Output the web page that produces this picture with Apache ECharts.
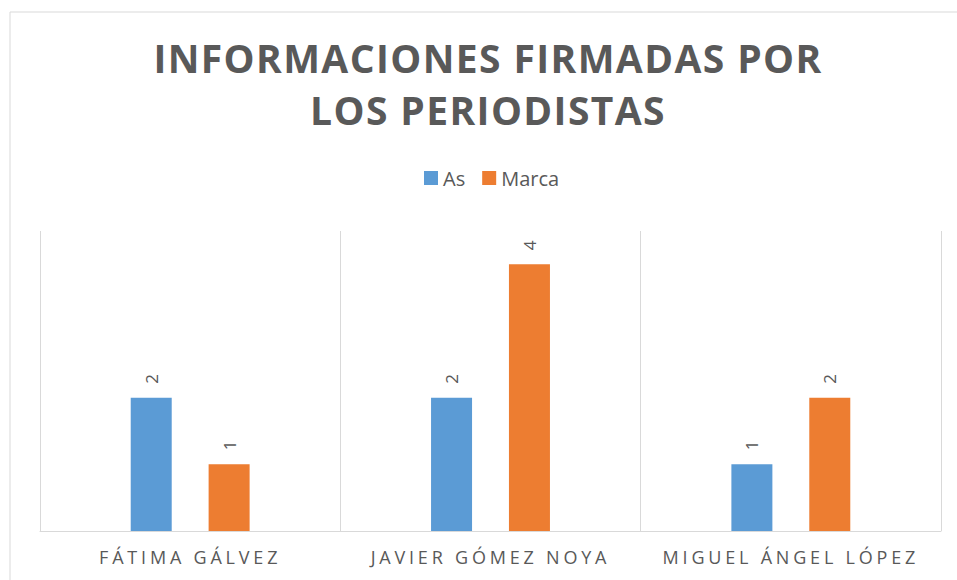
<!DOCTYPE html>
<html>
<head>
<meta charset="utf-8">
<script src="https://cdn.jsdelivr.net/npm/echarts@6/dist/echarts.min.js"></script>
<style>
	html, body { margin: 0; padding: 0; background: #fff; }
	#chart { width: 957px; height: 580px; }
	/* letter spacing of the title and the names */
	#chart text[style*="39px"] { letter-spacing: 1.4px; }
	#chart text[style*="18px"] { letter-spacing: 3.8px; }
</style>
</head>
<body>
<div id="chart"></div>
<script>
var periodistas = ["FÁTIMA GÁLVEZ", "JAVIER GÓMEZ NOYA", "MIGUEL ÁNGEL LÓPEZ"];
var as = [2, 2, 1];
var marca = [1, 4, 2];

var myChart = echarts.init(document.getElementById('chart'), null, {renderer: 'svg'});

var etiqueta = {
	show: true,
	position: 'top',
	rotate: 90,
	align: 'left',
	verticalAlign: 'middle',
	distance: 14,
	fontFamily: 'Open Sans',
	fontSize: 17,
	color: '#595959'
};

myChart.setOption({
	backgroundColor: '#fff',
	animation: false,
	title: {
		text: 'INFORMACIONES FIRMADAS POR\nLOS PERIODISTAS',
		left: 488,
		top: 31,
		padding: 0,
		textAlign: 'center',
		textStyle: {
			fontFamily: 'Open Sans',
			fontWeight: 'bold',
			fontSize: 39,
			lineHeight: 52,
			color: '#595959'
		}
	},
	legend: {
		left: 424,
		top: 168,
		padding: 0,
		itemWidth: 14,
		itemHeight: 14,
		itemGap: 17,
		icon: 'rect',
		textStyle: {
			fontFamily: 'Open Sans',
			fontSize: 20,
			color: '#595959'
		},
		data: ['As', 'Marca']
	},
	graphic: [{
		type: 'rect',
		shape: {x: 10, y: 12, width: 970, height: 600},
		style: {fill: 'none', stroke: '#d9d9d9', lineWidth: 1},
		silent: true
	}],
	grid: {left: 40, right: 16, top: 231, bottom: 49},
	xAxis: {
		type: 'category',
		data: periodistas,
		axisLine: {lineStyle: {color: '#d9d9d9', width: 1}},
		axisTick: {show: false},
		splitLine: {show: true, lineStyle: {color: '#d9d9d9', width: 1}},
		axisLabel: {
			fontFamily: 'Open Sans',
			fontSize: 18,
			color: '#595959',
			margin: 17
		}
	},
	yAxis: {
		type: 'value',
		min: 0,
		max: 4.5,
		show: false
	},
	series: [{
		name: 'As',
		type: 'bar',
		data: as,
		barWidth: 41,
		barGap: '90%',
		itemStyle: {color: '#5b9bd5'},
		label: etiqueta
	}, {
		name: 'Marca',
		type: 'bar',
		data: marca,
		barWidth: 41,
		itemStyle: {color: '#ed7d31'},
		label: etiqueta
	}]
});
</script>
</body>
</html>
